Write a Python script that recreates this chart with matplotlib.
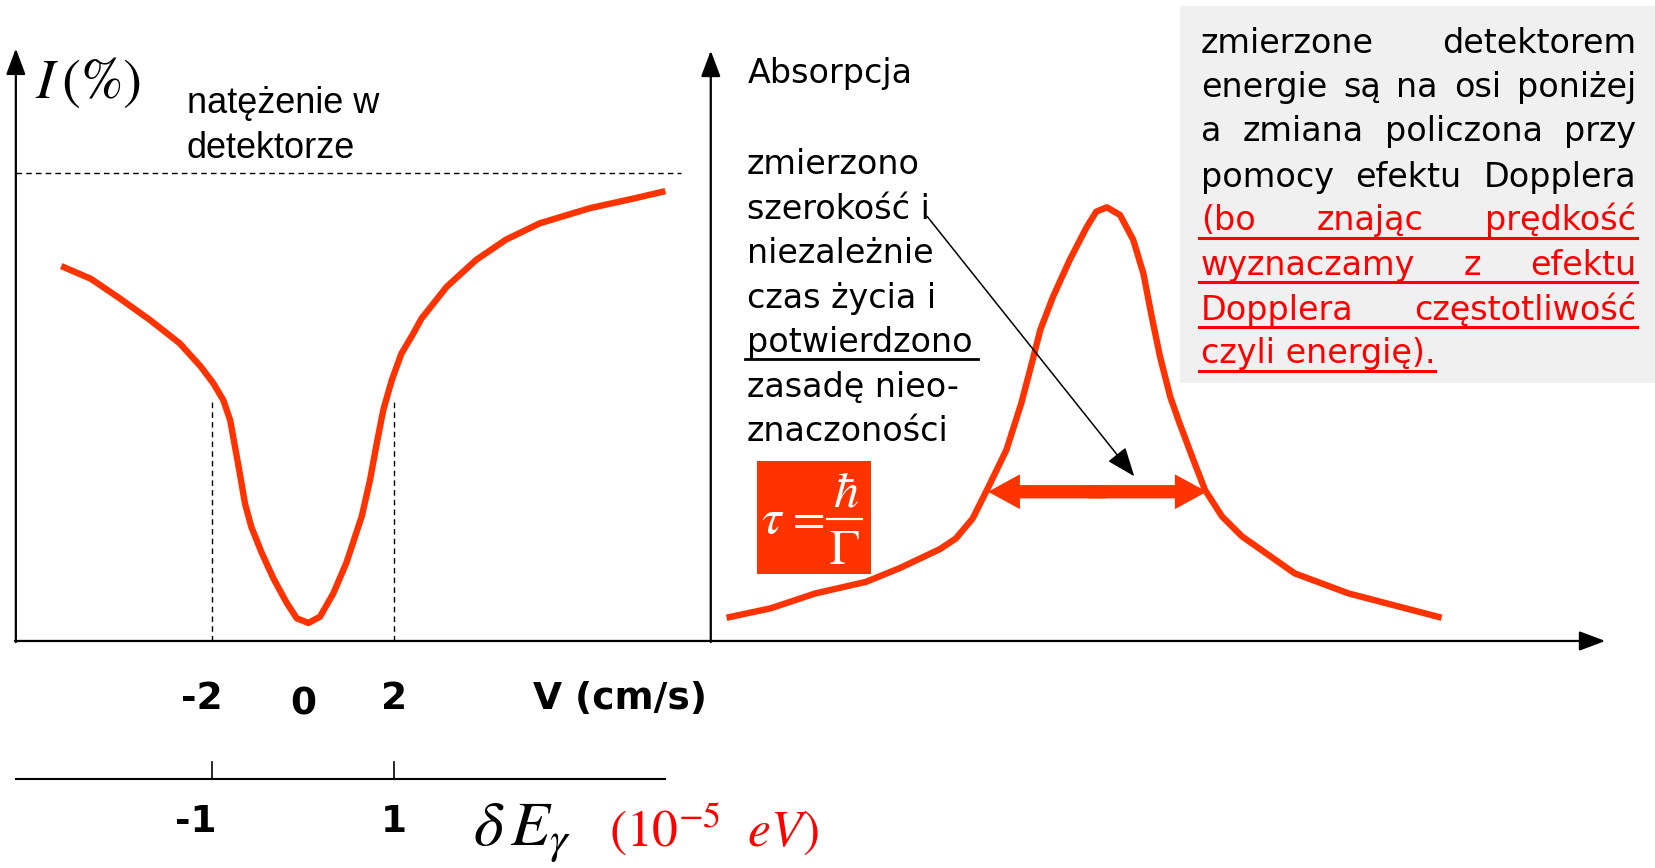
import matplotlib
matplotlib.use("Agg")
import matplotlib.pyplot as plt
from matplotlib.patches import Rectangle, FancyArrow

plt.rcParams["mathtext.fontset"] = "stix"

# ---------------- data ----------------
# left panel: detector intensity (%) vs source velocity (cm/s)
left_v = [-5.326, -4.674, -4.023, -3.372, -2.721, -2.256, -1.977, -1.756, -1.605,
          -1.500, -1.395, -1.279, -1.140, -0.907, -0.651, -0.360, -0.140, 0.116,
          0.372, 0.665, 0.953, 1.291, 1.474, 1.621, 1.767, 1.953, 2.163, 2.419,
          2.605, 3.163, 3.814, 4.465, 5.209, 6.326, 7.279, 7.977]
left_i = [80.14, 77.43, 73.14, 68.62, 63.66, 58.69, 55.08, 51.47, 47.18,
          41.53, 35.89, 29.35, 24.38, 18.74, 13.32, 8.13, 4.85, 3.84,
          5.19, 10.16, 16.70, 26.64, 34.42, 42.21, 49.44, 55.76, 61.40, 65.60,
          68.90, 75.73, 81.49, 85.78, 89.28, 92.55, 94.58, 96.16]
full_level = 100.0
v_ticks = [-2, 0, 2]
v_tick_labels = ["-2", "0", "2"]
dash_v = [-2, 2]
dash_top = [51.5, 51.5]
e_ticks = [-1, 1]          # energy ticks (10^-5 eV); 1 unit = 2 cm/s
e_tick_labels = ["-1", "1"]
e_per_v = 0.5

# right panel: absorption line
right_x = [-3.385, -2.981, -2.577, -2.115, -1.808, -1.442, -1.298, -1.144, -1.000,
           -0.837, -0.702, -0.606, -0.529, -0.413, -0.260, -0.106, -0.019, 0.077,
           0.197, 0.317, 0.410, 0.486, 0.562, 0.654, 0.740, 0.865, 0.971, 1.125,
           1.308, 1.788, 2.279, 3.125]
right_a = [4.97, 7.00, 10.16, 12.64, 15.58, 19.64, 21.90, 26.19, 32.96,
           40.86, 50.79, 59.37, 66.48, 73.59, 81.49, 88.49, 91.78, 92.71,
           91.06, 85.78, 78.56, 69.30, 60.72, 52.23, 46.50, 38.69, 32.28, 26.64,
           22.35, 14.45, 10.16, 4.97]
fwhm_x = [-1.004, 0.987]
fwhm_a = 31.9
pointer_from = (-1.558, 90.74)
pointer_to = (0.327, 35.2)

ORANGE = "#FF3300"
RED = "#FF0000"
COMIC = "DejaVu Sans"

# ---------------- layout ----------------
W, H = 1568.0, 822.0
fig = plt.figure(figsize=(16.56, 8.68), dpi=100)


def frac(x0, y0, x1, y1):
    return [x0 / W, 1 - y1 / H, (x1 - x0) / W, (y1 - y0) / H]


bg = fig.add_axes([0, 0, 1, 1], zorder=0)
bg.set_xlim(0, W); bg.set_ylim(H, 0); bg.axis("off")
ov = fig.add_axes([0, 0, 1, 1], zorder=3)
ov.set_xlim(0, W); ov.set_ylim(H, 0); ov.axis("off")
ov.patch.set_alpha(0)

# grey note box
bg.add_patch(Rectangle((1117, 6), W - 1117, 357, color="#F0F0F0", lw=0))

# left data axes
axL = fig.add_axes(frac(15, 48, 673, 607), zorder=1)
axL.set_xlim((15 - 287) / 43, (673 - 287) / 43)
axL.set_ylim(0, (607 - 48) / 4.43)
axL.axis("off"); axL.patch.set_alpha(0)
axL.plot(left_v, left_i, color=ORANGE, lw=4.6, solid_capstyle="butt",
         solid_joinstyle="round")
axL.plot([axL.get_xlim()[0], (645 - 287) / 43], [full_level] * 2, color="k",
         lw=1.0, ls=(0, (4, 3)))
axL.vlines(dash_v, 0, dash_top, colors="k", lw=1.0, linestyles=[(0, (4, 3))])

# right data axes
axR = fig.add_axes(frac(673, 48, 1518, 607), zorder=2)
axR.set_xlim((673 - 1040) / 104, (1518 - 1040) / 104)
axR.set_ylim(0, (607 - 48) / 4.43)
axR.axis("off"); axR.patch.set_alpha(0)
axR.plot(right_x, right_a, color=ORANGE, lw=4.6, solid_capstyle="butt",
         solid_joinstyle="round")
mid = (fwhm_x[0] + fwhm_x[1]) / 2
for end, sgn in ((fwhm_x[0], 1), (fwhm_x[1], -1)):
    start = mid + 0.08 * sgn
    axR.add_patch(FancyArrow(start, fwhm_a, end - start, 0, width=2.85,
                             head_width=7.45, head_length=0.29,
                             length_includes_head=True, color=ORANGE, lw=0))
axR.annotate("", xy=pointer_to, xytext=pointer_from,
             arrowprops=dict(arrowstyle="-|>,head_length=0.9,head_width=0.35",
                             lw=1.1, color="k", mutation_scale=20,
                             shrinkA=0, shrinkB=0))

# axis lines with arrows (layout)
ap = dict(arrowstyle="-|>,head_length=0.8,head_width=0.3", lw=1.6, color="k",
          mutation_scale=20, shrinkA=0, shrinkB=0)
ov.annotate("", xy=(15, 46), xytext=(15, 608), arrowprops=ap)
ov.annotate("", xy=(673, 48), xytext=(673, 608), arrowprops=ap)
ov.annotate("", xy=(1520, 607), xytext=(14, 607), arrowprops=ap)
ov.plot([15, 630], [738, 738], color="k", lw=1.5)


def vx(v):
    return 287 + 43 * v


# ticks and tick labels
for e in e_ticks:
    x = vx(e / e_per_v)
    ov.plot([x, x], [722, 738], color="k", lw=1.2)
for v, lab in zip(v_ticks, v_tick_labels):
    x = vx(v)
    if lab.startswith("-"):
        ov.text(x + 10, 671, lab, ha="right", va="baseline", fontsize=27,
                fontweight="bold", family=COMIC)
    else:
        ov.text(x, 671 + (6 if v == 0 else 0), lab, ha="center", va="baseline",
                fontsize=27, fontweight="bold", family=COMIC)
for e, lab in zip(e_ticks, e_tick_labels):
    x = vx(e / e_per_v)
    if lab.startswith("-"):
        ov.text(x + 4, 788, lab, ha="right", va="baseline", fontsize=27,
                fontweight="bold", family=COMIC)
    else:
        ov.text(x, 788, lab, ha="center", va="baseline", fontsize=27,
                fontweight="bold", family=COMIC)
ov.text(505, 671, "V (cm/s)", ha="left", va="baseline", fontsize=27,
        fontweight="bold", family=COMIC)
ov.text(448, 801, r"$\delta\, E_{\gamma}$", ha="left", va="baseline",
        fontsize=46, color="k")
ov.text(577, 801, r"$(10^{-5}\ \ eV)$", ha="left", va="baseline",
        fontsize=37, color=RED)

# left panel labels
ov.text(33, 93, r"$I\,(\%)$", ha="left", va="baseline", fontsize=41, color="k")
ov.text(177, 107, "natężenie w", ha="left", va="baseline", fontsize=26,
        family="Liberation Sans")
ov.text(177, 150, "detektorze", ha="left", va="baseline", fontsize=26,
        family="Liberation Sans")

# right panel labels
ov.text(708, 79, "Absorpcja", ha="left", va="baseline", fontsize=24, family=COMIC)
note_lines = ["zmierzono", "szerokość i", "niezależnie", "czas życia i",
              "potwierdzono", "zasadę nieo-", "znaczoności"]
for k, s in enumerate(note_lines):
    ov.text(707, 165 + 42.1 * k, s, ha="left", va="baseline", fontsize=24,
            family=COMIC)
ov.plot([705, 926], [340, 340], color="k", lw=2.0)

# formula box: tau = hbar / Gamma
ov.add_patch(Rectangle((717, 437), 108, 107, color=ORANGE, lw=0))
ov.text(731.5, 505, r"$\tau$", ha="center", va="baseline", fontsize=36,
        color="white")
ov.text(762.5, 504, r"$=$", ha="center", va="baseline", fontsize=34,
        color="white")
ov.plot([783, 816], [491.5, 491.5], color="white", lw=1.6)
ov.text(801, 480, r"$\hbar$", ha="center", va="baseline", fontsize=36,
        color="white")
ov.text(799.5, 534, r"$\Gamma$", ha="center", va="baseline", fontsize=36,
        color="white")

# justified note in the grey box
renderer = fig.canvas.get_renderer()
scale = W / fig.bbox.width
box_lines = [
    ("zmierzone detektorem", "k", True, 50),
    ("energie są na osi poniżej", "k", True, 92),
    ("a zmiana policzona przy", "k", True, 134),
    ("pomocy efektu Dopplera", "k", True, 177),
    ("(bo znając prędkość", RED, True, 218),
    ("wyznaczamy z efektu", RED, True, 260),
    ("Dopplera częstotliwość", RED, True, 303),
    ("czyli energię).", RED, False, 344),
]
X0, X1 = 1137, 1549
for text, col, just, yb in box_lines:
    if just:
        words = text.split()
        ts = [ov.text(0, yb, w, ha="left", va="baseline", fontsize=24,
                      family=COMIC, color=col) for w in words]
        widths = [t.get_window_extent(renderer).width * scale for t in ts]
        gap = (X1 - X0 - sum(widths)) / (len(words) - 1)
        x = X0
        for t, wd in zip(ts, widths):
            t.set_x(x)
            x += wd + gap
        end = X1 + 1
    else:
        t = ov.text(X0, yb, text, ha="left", va="baseline", fontsize=24,
                    family=COMIC, color=col)
        end = X0 + t.get_window_extent(renderer).width * scale
    if col == RED:
        ov.plot([X0 - 2, end], [yb + 7, yb + 7], color=RED, lw=2.2)

fig.savefig("out.png", dpi=100)
